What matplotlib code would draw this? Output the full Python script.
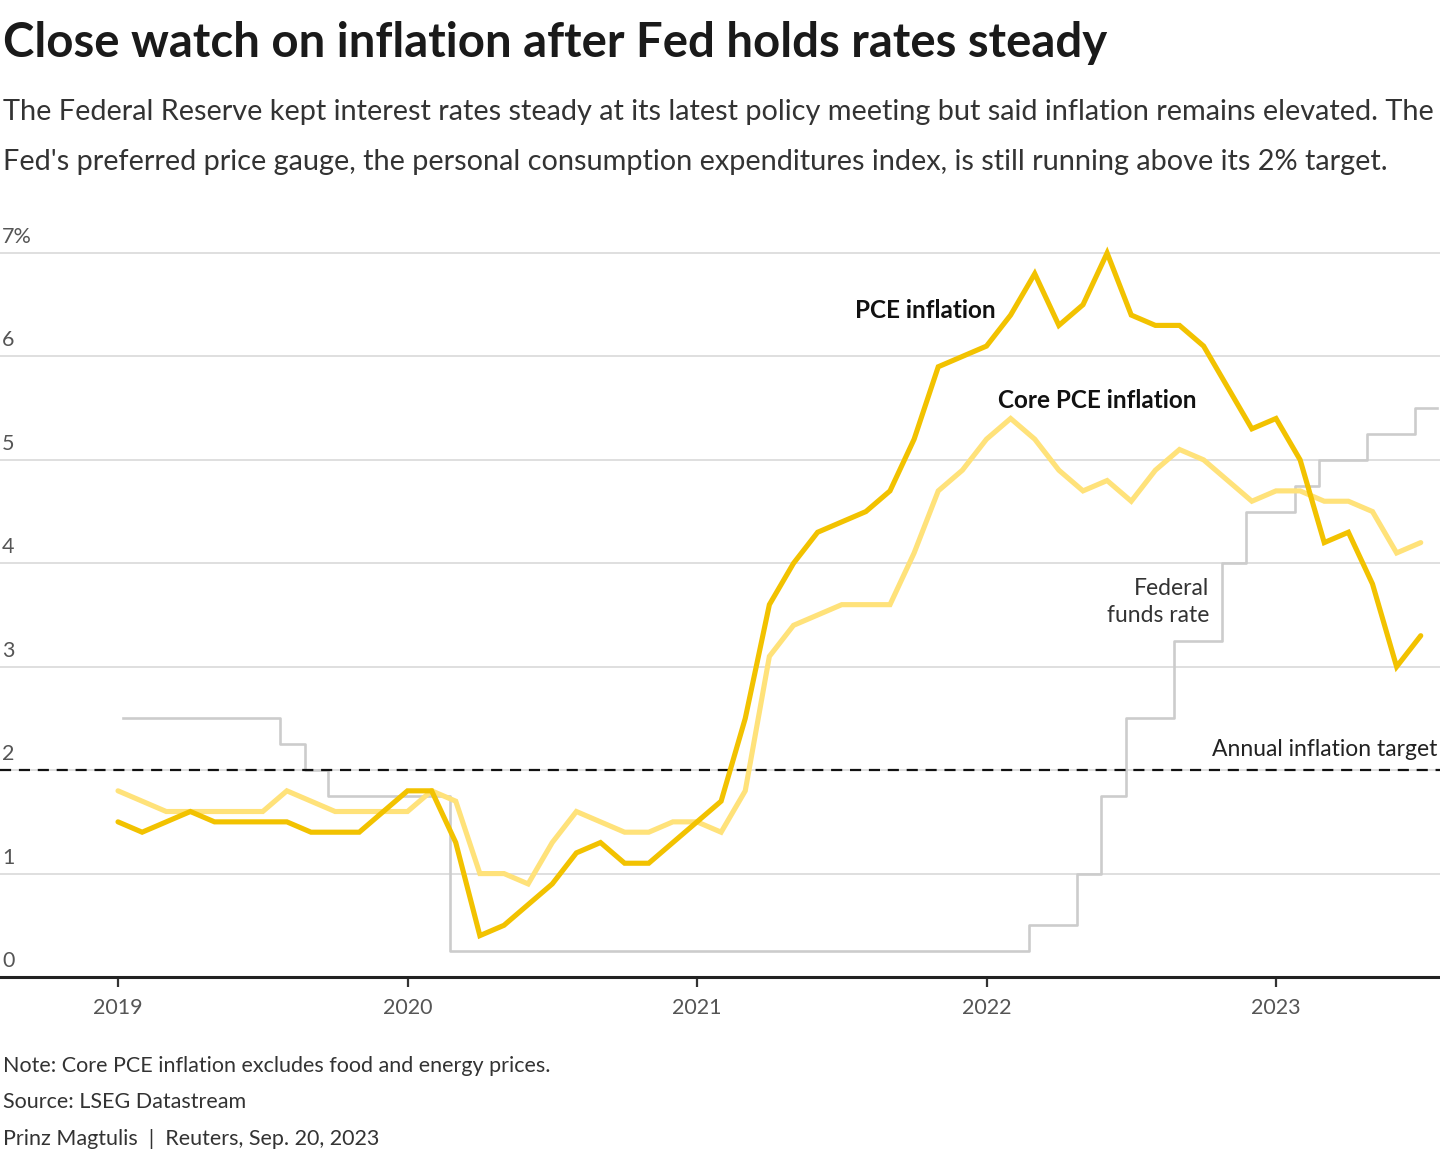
import matplotlib
matplotlib.use("Agg")
import matplotlib.pyplot as plt
import matplotlib.transforms as mtransforms
import numpy as np

plt.rcParams['font.family'] = ['Lato', 'DejaVu Sans']

# ---------------- data ----------------
start_year = 2019
# Monthly, Jan 2019 .. Jul 2023 (year-over-year %)
pce = [1.5, 1.4, 1.5, 1.6, 1.5, 1.5, 1.5, 1.5, 1.4, 1.4, 1.4, 1.6,
       1.8, 1.8, 1.3, 0.4, 0.5, 0.7, 0.9, 1.2, 1.3, 1.1, 1.1, 1.3,
       1.5, 1.7, 2.5, 3.6, 4.0, 4.3, 4.4, 4.5, 4.7, 5.2, 5.9, 6.0,
       6.1, 6.4, 6.8, 6.3, 6.5, 7.0, 6.4, 6.3, 6.3, 6.1, 5.7, 5.3,
       5.4, 5.0, 4.2, 4.3, 3.8, 3.0, 3.3]
core_pce = [1.8, 1.7, 1.6, 1.6, 1.6, 1.6, 1.6, 1.8, 1.7, 1.6, 1.6, 1.6,
            1.6, 1.8, 1.7, 1.0, 1.0, 0.9, 1.3, 1.6, 1.5, 1.4, 1.4, 1.5,
            1.5, 1.4, 1.8, 3.1, 3.4, 3.5, 3.6, 3.6, 3.6, 4.1, 4.7, 4.9,
            5.2, 5.4, 5.2, 4.9, 4.7, 4.8, 4.6, 4.9, 5.1, 5.0, 4.8, 4.6,
            4.7, 4.7, 4.6, 4.6, 4.5, 4.1, 4.2]
# Federal funds rate (upper bound), step changes (decimal year, level %)
fed_dates = [2019.017, 2019.560, 2019.646, 2019.725, 2020.147, 2022.147,
             2022.313, 2022.395, 2022.482, 2022.648, 2022.813, 2022.896,
             2023.065, 2023.148, 2023.314, 2023.480, 2023.556]
fed_rates = [2.5, 2.25, 2.0, 1.75, 0.25, 0.5, 1.0, 1.75, 2.5, 3.25, 4.0, 4.5,
             4.75, 5.0, 5.25, 5.5, 5.5]
target = 2.0
year_ticks = [2019, 2020, 2021, 2022, 2023]
y_ticks = [0, 1, 2, 3, 4, 5, 6, 7]
y_tick_labels = ["0", "1", "2", "3", "4", "5", "6", "7%"]

months = start_year + np.arange(len(pce)) / 12.0

# ---------------- figure ----------------
W, H = 1440, 1154
fig = plt.figure(figsize=(W / 100, H / 100), dpi=100)

def fx(x):
    return x / W

def fy(y):
    return 1 - y / H

ax_bottom_px = 977
ax_top_px = 232
ax = fig.add_axes([0, fy(ax_bottom_px), 1, (ax_bottom_px - ax_top_px) / H])
ymax = 7 + (253 - ax_top_px) / ((977 - 253) / 7)
ax.set_ylim(0, ymax)
x0 = 2019 - 118 / 289.5
x1 = 2019 + (1440 - 118) / 289.5
ax.set_xlim(x0, x1)

for s in ['top', 'right', 'left']:
    ax.spines[s].set_visible(False)
ax.spines['bottom'].set_color('#222222')
ax.spines['bottom'].set_linewidth(2.2)
ax.spines['bottom'].set_zorder(6)

ax.set_yticks(y_ticks)
ax.set_yticklabels([])
ax.tick_params(axis='y', length=0)
ax.grid(axis='y', color='#d9d9d9', linewidth=1.2)
ax.set_axisbelow(True)

ax.set_xticks(year_ticks)
ax.set_xticklabels([str(y) for y in year_ticks], fontsize=15.5, color='#555555')
ax.tick_params(axis='x', length=7, width=1.6, color='#333333', pad=8)

trans = mtransforms.blended_transform_factory(ax.transAxes, ax.transData)
for v, lab in zip(y_ticks, y_tick_labels):
    ax.annotate(lab, xy=(0.0015, v), xycoords=trans, xytext=(0, 6),
                textcoords='offset pixels', ha='left', va='bottom',
                fontsize=15.5, color='#555555')

# target line
ax.axhline(target, color='#111111', linewidth=1.6, dashes=(5, 3.5), zorder=3)

# fed funds rate
ax.step(fed_dates, fed_rates, where='post', color='#cccccc', linewidth=1.9, zorder=2)

# core pce and pce
ax.plot(months, core_pce, color='#ffe27a', linewidth=3.7, zorder=4,
        solid_joinstyle='miter', solid_capstyle='round')
ax.plot(months, pce, color='#f2c200', linewidth=3.7, zorder=5,
        solid_joinstyle='miter', solid_capstyle='round')

# labels on the chart
fig.text(fx(855), fy(311), "PCE inflation", fontsize=17.5, fontweight='bold',
         color='#111111', ha='left', va='center')
fig.text(fx(998), fy(400), "Core PCE inflation", fontsize=17.5, fontweight='bold',
         color='#111111', ha='left', va='center')
fig.text(fx(1209), fy(602), "Federal\nfunds rate", fontsize=16.5,
         color='#333333', ha='right', va='center', linespacing=1.3)
fig.text(fx(1437), fy(750), "Annual inflation target", fontsize=16.5,
         color='#222222', ha='right', va='center')

# title / subtitle
fig.text(fx(3), fy(43), "Close watch on inflation after Fed holds rates steady",
         fontsize=34, fontweight='bold', color='#1a1a1a', ha='left', va='center')
fig.text(fx(3), fy(112),
         "The Federal Reserve kept interest rates steady at its latest policy meeting but said inflation remains elevated. The",
         fontsize=20.8, color='#333333', ha='left', va='center')
fig.text(fx(3), fy(162),
         "Fed's preferred price gauge, the personal consumption expenditures index, is still running above its 2% target.",
         fontsize=20.8, color='#333333', ha='left', va='center')

# footer
fig.text(fx(3), fy(1066), "Note: Core PCE inflation excludes food and energy prices.",
         fontsize=15.5, color='#333333', ha='left', va='center')
fig.text(fx(3), fy(1102), "Source: LSEG Datastream",
         fontsize=15.5, color='#333333', ha='left', va='center')
fig.text(fx(3), fy(1139), "Prinz Magtulis  |  Reuters, Sep. 20, 2023",
         fontsize=15.5, color='#333333', ha='left', va='center')

fig.savefig("out.png", dpi=100)
